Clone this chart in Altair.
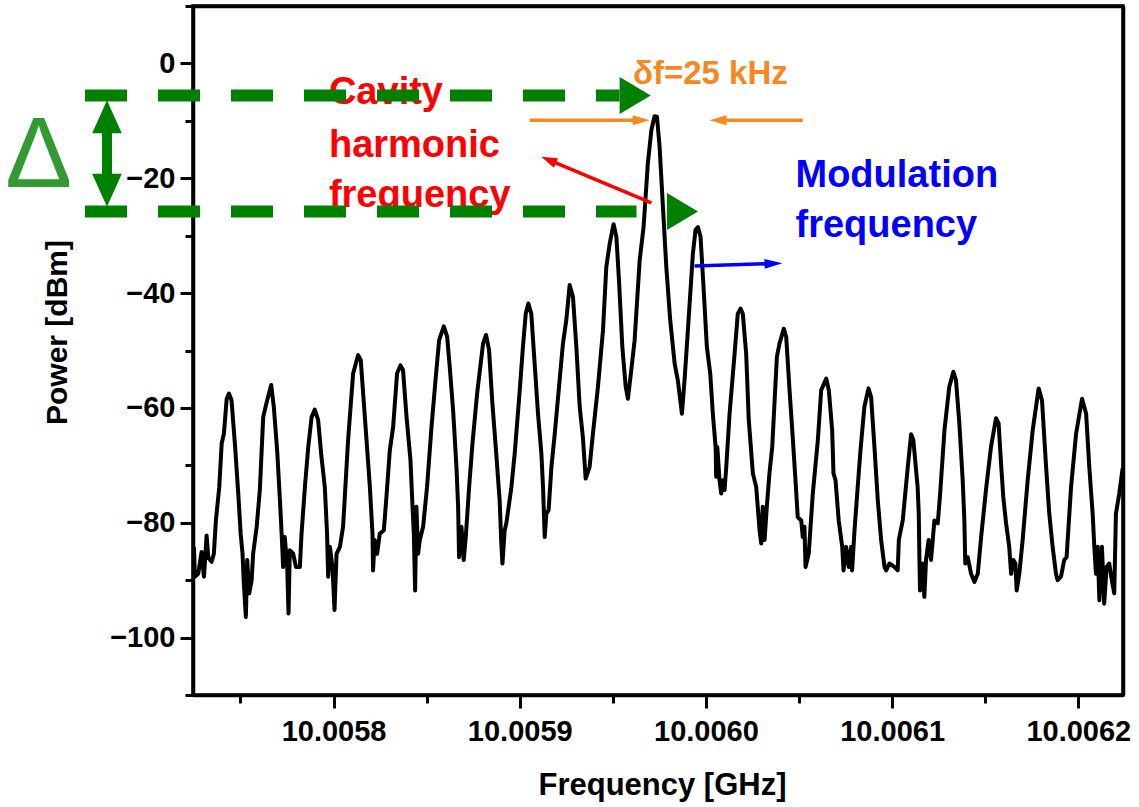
import altair as alt
import pandas as pd

# ---------------- data (frequency as kHz offset from 10.0057 GHz) ----------------
BASE_GHZ = 10.0057

freq_khz = [
    25.0, 25.5, 27.3, 29.1, 30.4, 31.8, 32.7, 34.5, 35.7, 36.8, 38.6, 39.9, 41.1, 42.6, 43.8, 45.2,
    47.0, 48.8, 50.1, 51.1, 51.8, 52.9, 53.6, 54.7, 56.0, 56.8, 58.7, 60.4, 62.2, 64.3, 66.5, 67.9,
    69.7, 71.2, 72.2, 72.9, 73.8, 75.1, 75.8, 76.5, 78.3, 79.8, 81.9, 82.8, 84.6, 86.4, 88.2, 89.9,
    91.7, 93.5, 95.3, 96.5, 97.1, 98.0, 99.4, 100.5, 101.6, 103.4, 105.1, 107.8, 110.5, 113.2, 114.6,
    115.9, 117.7, 119.5, 120.9, 121.2, 122.1, 123.4, 124.8, 127.0, 128.4, 130.2, 132.0, 134.1, 135.9,
    137.3, 139.2, 141.3, 142.4, 143.1, 143.8, 144.5, 145.4, 146.3, 148.1, 150.2, 152.6, 154.9, 156.7,
    159.2, 161.0, 162.4, 164.2, 166.0, 166.9, 167.4, 168.7, 169.9, 171.0, 172.8, 174.6, 177.1, 180.3,
    181.9, 183.5, 185.3, 187.1, 189.2, 190.1, 190.7, 191.9, 192.8, 195.5, 197.3, 200.0, 201.7, 203.2,
    204.6, 206.2, 208.0, 209.8, 211.6, 212.5, 213.4, 214.3, 215.5, 217.0, 218.8, 221.4, 223.2, 225.0,
    226.8, 228.6, 230.4, 232.2, 233.9, 235.4, 237.5, 239.3, 242.0, 244.7, 246.5, 248.3, 250.4, 251.9,
    253.3, 255.1, 256.9, 258.1, 259.9, 261.7, 264.4, 266.5, 267.6, 268.8, 270.7, 272.4, 273.7, 275.1,
    276.9, 278.7, 280.8, 283.2, 284.9, 287.1, 288.5, 290.3, 293.0, 294.4, 295.7, 297.1, 298.7, 300.5,
    302.3, 303.7, 305.2, 305.5, 306.1, 307.3, 308.2, 309.1, 310.0, 310.9, 312.7, 315.4, 317.1, 318.6,
    319.8, 321.6, 323.0, 325.2, 327.0, 328.8, 329.7, 330.5, 331.5, 332.7, 334.1, 335.6, 338.1, 339.5,
    341.8, 343.1, 344.9, 346.6, 348.1, 349.3, 351.2, 352.0, 352.9, 353.5, 355.2, 357.4, 360.1, 361.9,
    364.6, 366.0, 367.8, 368.5, 369.6, 371.3, 373.2, 373.9, 375.3, 376.7, 378.0, 378.5, 379.8, 381.5,
    383.0, 385.1, 387.3, 388.7, 390.5, 392.3, 394.1, 395.9, 396.8, 398.5, 401.2, 403.0, 403.6, 405.7,
    408.4, 410.2, 411.4, 413.7, 414.3, 414.7, 415.0, 416.4, 417.3, 418.2, 419.6, 420.9, 422.7, 424.5,
    425.8, 428.1, 430.7, 432.9, 434.3, 436.1, 437.9, 438.8, 439.3, 440.6, 442.4, 444.2, 446.0, 447.8,
    450.4, 453.1, 455.8, 457.2, 458.5, 459.7, 461.2, 462.9, 463.9, 465.1, 466.2, 466.9, 468.3, 470.1,
    472.8, 475.5, 478.7, 480.5, 482.7, 484.4, 486.2, 488.0, 488.9, 490.7, 492.4, 493.7, 496.1, 498.8,
    502.0, 504.2, 505.9, 507.7, 508.6, 509.5, 510.4, 511.3, 512.7, 513.9, 515.2, 516.6, 518.0, 519.3,
    520.2, 522.0, 523.8,
]

power_dbm = [
    -84.2, -89.4, -88.9, -85.1, -89.4, -82.2, -86.0, -86.8, -85.4, -79.6, -73.8, -66.2, -64.5, -58.4, -57.5, -58.7,
    -66.2, -74.9, -81.9, -85.4, -90.6, -96.4, -86.5, -92.3, -90.0, -85.4, -80.7, -74.3, -61.6, -58.7, -56.0, -59.8,
    -67.4, -76.1, -82.5, -87.7, -82.5, -87.7, -95.8, -84.8, -85.4, -87.7, -87.7, -81.9, -73.8, -66.8, -61.6, -60.3,
    -62.1, -68.5, -73.8, -81.9, -89.4, -84.2, -87.7, -95.2, -85.4, -84.2, -80.7, -65.6, -54.0, -50.8, -51.7,
    -57.5, -65.6, -73.8, -81.9, -88.3, -83.0, -85.4, -81.9, -81.3, -75.5, -67.4, -63.3, -54.0, -52.6,
    -53.4, -61.6, -69.1, -77.2, -81.9, -91.8, -77.2, -85.4, -83.0, -80.7, -73.8, -63.3, -54.6, -48.2,
    -45.8, -47.6, -52.9, -60.4, -70.3, -77.2, -86.0, -80.7, -86.5, -82.5, -73.8, -66.2, -57.5, -48.8,
    -47.3, -49.9, -59.2, -66.8, -76.1, -83.6, -87.1, -81.3, -80.1, -73.8, -67.9, -56.9, -49.4, -43.6,
    -41.8, -43.6, -52.3, -61.0, -67.9, -73.8, -82.5, -78.4, -77.8, -70.3, -64.5, -55.2, -48.8, -44.7,
    -38.6, -40.7, -49.4, -59.8, -65.1, -72.3, -70.3, -64.5, -56.3, -46.5, -35.4, -31.4, -28.0, -30.2,
    -37.8, -49.4, -56.3, -58.4, -53.4, -48.2, -34.3, -28.5, -23.2, -17.4, -11.6, -9.2, -9.3, -14.5,
    -25.0, -35.4, -44.7, -52.3, -55.2, -61.0, -55.2, -46.5, -33.1, -29.0, -28.5, -30.2, -38.9, -49.4,
    -54.0, -61.0, -66.8, -72.0, -66.8, -72.6, -74.9, -72.6, -74.3, -70.3, -61.0, -50.5, -43.6, -42.7,
    -43.6, -50.5, -62.1, -71.4, -73.8, -81.3, -83.6, -77.2, -83.0, -77.2, -71.4, -66.8, -51.1, -48.8,
    -46.2, -47.6, -56.9, -65.1, -72.6, -79.0, -79.6, -82.5, -80.7, -87.7, -85.4, -74.9, -65.6, -56.9,
    -54.9, -56.9, -63.9, -71.4, -72.6, -79.6, -84.2, -88.3, -84.2, -87.7, -84.2, -88.3, -81.3, -73.8,
    -67.4, -59.8, -56.6, -58.1, -66.8, -76.1, -83.0, -87.7, -88.3, -87.1, -87.7, -88.3, -83.0, -79.6,
    -70.3, -64.6, -65.6, -73.8, -78.4, -87.1, -91.8, -87.1, -92.9, -86.5, -83.0, -86.5, -79.6, -80.1,
    -74.9, -63.9, -56.3, -53.7, -55.2, -62.7, -72.6, -79.6, -87.1, -86.0, -88.9, -90.3, -88.9, -82.5,
    -74.3, -66.8, -61.8, -62.7, -69.7, -75.5, -80.1, -84.2, -88.9, -86.5, -87.1, -91.8, -88.9, -83.0,
    -72.6, -63.9, -56.6, -58.7, -70.3, -78.4, -84.2, -88.9, -90.0, -89.4, -86.5, -86.0, -73.8, -64.5,
    -58.4, -61.0, -70.3, -78.4, -84.2, -88.9, -84.2, -93.5, -84.2, -94.1, -87.7, -87.1, -90.0, -92.3,
    -78.4, -74.9, -70.5,
]

# axes
x_domain_ghz = [10.0057245, 10.006224]
y_domain_dbm = [-110, 10]
x_major_ticks = [10.0058, 10.0059, 10.0060, 10.0061, 10.0062]
x_minor_ticks = [10.00575, 10.00585, 10.00595, 10.00605, 10.00615]
y_major_ticks = [0, -20, -40, -60, -80, -100]
y_minor_ticks = [10, -10, -30, -50, -70, -90, -110]
x_title = "Frequency [GHz]"
y_title = "Power [dBm]"

# annotations (kHz offset, dBm)
green_dash_x_start = [-33.5, -33.5]
green_dash_x_end = [253.6, 262.7]
green_dash_y = [-5.6, -25.8]
green_head_x = [262.0, 287.4]
green_head_y = [-5.6, -25.8]
delta_arrow_x = [-21.7]
delta_arrow_top = [-9.3]
delta_arrow_bottom = [-22.1]
delta_symbol = ["Δ"]
delta_symbol_x = [-58.4]
delta_symbol_y = [-21.6]

orange_x_start = [205.3, 306.5]
orange_x_end = [265.2, 352.0]
orange_y = [-9.9, -9.9]
orange_head_right_x = [265.2]
orange_head_left_x = [306.5]
orange_label = ["δf=25 kHz"]
orange_label_x = [260.8]
orange_label_y = [-3.5]

red_arrow_from = (270.7, -24.3)
red_arrow_head = (215.5, -16.8)
red_lines = ["Cavity", "harmonic", "frequency"]
red_lines_x = [97.5, 97.5, 97.5]
red_lines_y = [-7.1, -16.3, -25.0]

blue_arrow_from = (293.9, -35.3)
blue_arrow_head = (336.3, -34.85)
blue_lines = ["Modulation", "frequency"]
blue_lines_x = [348.1, 348.1]
blue_lines_y = [-21.5, -30.2]


def ghz(k):
    return BASE_GHZ + k * 1e-6


trace = pd.DataFrame({"f": [ghz(k) for k in freq_khz], "p": power_dbm})

xs = alt.Scale(domain=x_domain_ghz, nice=False, zero=False)
ys = alt.Scale(domain=y_domain_dbm, nice=False, zero=False)

GREEN = "#008000"
ORANGE = "#f5891f"
RED = "#ff0000"
BLUE = "#0000ff"
FONT = "Liberation Sans"

x_axis = alt.Axis(
    values=x_major_ticks, format=".4f", tickSize=13, offset=0,
    title=x_title, titleX=469, titleY=90, titleBaseline="middle", titleFontSize=31,
    labelPadding=9, labelFlush=False, labelOverlap=False)
y_axis = alt.Axis(
    values=y_major_ticks, format="d", tickSize=13, offset=0,
    title=y_title, titleX=-136, titleY=326, titleBaseline="middle", titleFontSize=30,
    labelPadding=5, labelFlush=False, labelOverlap=False)


def X(field):
    return alt.X(field, type="quantitative", scale=xs, axis=x_axis)


def Y(field):
    return alt.Y(field, type="quantitative", scale=ys, axis=y_axis)


line = alt.Chart(trace).mark_line(color="black", strokeWidth=4, strokeJoin="round").encode(
    x=X("f"), y=Y("p"))

green_df = pd.DataFrame({"x": [ghz(v) for v in green_dash_x_start],
                         "x2": [ghz(v) for v in green_dash_x_end], "y": green_dash_y})
green_rules = alt.Chart(green_df).mark_rule(color=GREEN, strokeWidth=12, strokeDash=[42, 31]).encode(
    x=X("x"), x2="x2", y=Y("y"))

ghead_df = pd.DataFrame({"x": [ghz(v) for v in green_head_x], "y": green_head_y})
green_heads = alt.Chart(ghead_df).mark_point(
    shape="M-0.84,-1L0.84,0L-0.84,1Z", filled=True, size=1369, color=GREEN, opacity=1, strokeWidth=0
).encode(x=X("x"), y=Y("y"))

darrow_df = pd.DataFrame({"x": [ghz(v) for v in delta_arrow_x], "y": delta_arrow_top, "y2": delta_arrow_bottom})
delta_shaft = alt.Chart(darrow_df).mark_rule(color=GREEN, strokeWidth=10).encode(
    x=X("x"), y=Y("y"), y2="y2")
dup_df = pd.DataFrame({"x": [ghz(v) for v in delta_arrow_x], "y": delta_arrow_top})
ddown_df = pd.DataFrame({"x": [ghz(v) for v in delta_arrow_x], "y": delta_arrow_bottom})
delta_up = alt.Chart(dup_df).mark_point(
    shape="M0,-1L0.9,1L-0.9,1Z", filled=True, size=1089, color=GREEN, opacity=1, strokeWidth=0
).encode(x=X("x"), y=Y("y"))
delta_down = alt.Chart(ddown_df).mark_point(
    shape="M0,1L0.9,-1L-0.9,-1Z", filled=True, size=1089, color=GREEN, opacity=1, strokeWidth=0
).encode(x=X("x"), y=Y("y"))

delta_df = pd.DataFrame({"x": [ghz(v) for v in delta_symbol_x], "y": delta_symbol_y, "t": delta_symbol})
delta_text = alt.Chart(delta_df).mark_text(
    align="center", baseline="alphabetic", font=FONT, fontSize=100, color="#339933"
).encode(x=X("x"), y=Y("y"), text="t:N")

orange_df = pd.DataFrame({"x": [ghz(v) for v in orange_x_start],
                          "x2": [ghz(v) for v in orange_x_end], "y": orange_y})
orange_rules = alt.Chart(orange_df).mark_rule(color=ORANGE, strokeWidth=3.5).encode(
    x=X("x"), x2="x2", y=Y("y"))
ohr_df = pd.DataFrame({"x": [ghz(v) for v in orange_head_right_x], "y": [orange_y[0]]})
ohl_df = pd.DataFrame({"x": [ghz(v) for v in orange_head_left_x], "y": [orange_y[1]]})
orange_head_r = alt.Chart(ohr_df).mark_point(
    shape="M-1,-0.6L1,0L-1,0.6Z", filled=True, size=289, color=ORANGE, opacity=1, strokeWidth=0
).encode(x=X("x"), y=Y("y"))
orange_head_l = alt.Chart(ohl_df).mark_point(
    shape="M1,-0.6L-1,0L1,0.6Z", filled=True, size=289, color=ORANGE, opacity=1, strokeWidth=0
).encode(x=X("x"), y=Y("y"))
olab_df = pd.DataFrame({"x": [ghz(v) for v in orange_label_x], "y": orange_label_y, "t": orange_label})
orange_text = alt.Chart(olab_df).mark_text(
    align="left", baseline="alphabetic", font=FONT, fontWeight="bold", fontSize=33, color=ORANGE
).encode(x=X("x"), y=Y("y"), text="t:N")

red_df = pd.DataFrame({"x": [ghz(red_arrow_from[0])], "y": [red_arrow_from[1]],
                       "x2": [ghz(red_arrow_head[0])], "y2": [red_arrow_head[1]]})
red_rule = alt.Chart(red_df).mark_rule(color=RED, strokeWidth=3.5).encode(
    x=X("x"), y=Y("y"), x2="x2", y2="y2")
rhead_df = pd.DataFrame({"x": [ghz(red_arrow_head[0])], "y": [red_arrow_head[1]]})
red_head = alt.Chart(rhead_df).mark_point(
    shape="M-1,-0.65L1,0L-1,0.65Z", filled=True, size=256, angle=203, color=RED, opacity=1, strokeWidth=0
).encode(x=X("x"), y=Y("y"))
rtext_df = pd.DataFrame({"x": [ghz(v) for v in red_lines_x], "y": red_lines_y, "t": red_lines})
red_text = alt.Chart(rtext_df).mark_text(
    align="left", baseline="alphabetic", font=FONT, fontWeight="bold", fontSize=38, color=RED
).encode(x=X("x"), y=Y("y"), text="t:N")

blue_df = pd.DataFrame({"x": [ghz(blue_arrow_from[0])], "y": [blue_arrow_from[1]],
                        "x2": [ghz(blue_arrow_head[0])], "y2": [blue_arrow_head[1]]})
blue_rule = alt.Chart(blue_df).mark_rule(color=BLUE, strokeWidth=3.5).encode(
    x=X("x"), y=Y("y"), x2="x2", y2="y2")
bhead_df = pd.DataFrame({"x": [ghz(blue_arrow_head[0])], "y": [blue_arrow_head[1]]})
blue_head = alt.Chart(bhead_df).mark_point(
    shape="M-1,-0.55L1,0L-1,0.55Z", filled=True, size=324, angle=358, color=BLUE, opacity=1, strokeWidth=0
).encode(x=X("x"), y=Y("y"))
btext_df = pd.DataFrame({"x": [ghz(v) for v in blue_lines_x], "y": blue_lines_y, "t": blue_lines})
blue_text = alt.Chart(btext_df).mark_text(
    align="left", baseline="alphabetic", font=FONT, fontWeight="bold", fontSize=38, color=BLUE
).encode(x=X("x"), y=Y("y"), text="t:N")

main = alt.layer(
    line, red_text, blue_text, orange_text, delta_text,
    orange_rules, orange_head_r, orange_head_l,
    red_rule, red_head, blue_rule, blue_head,
    green_rules, green_heads, delta_shaft, delta_up, delta_down,
)

anchor_df = pd.DataFrame({"x": [x_domain_ghz[1]], "y": [y_domain_dbm[1]]})

# minor ticks (shorter, unlabelled) on bottom and left
minor = alt.Chart(anchor_df).mark_point(opacity=0).encode(
    x=alt.X("x:Q", scale=xs, axis=alt.Axis(orient="bottom", values=x_minor_ticks, tickSize=8,
                                           labels=False, domain=False, title=None, offset=0)),
    y=alt.Y("y:Q", scale=ys, axis=alt.Axis(orient="left", values=y_minor_ticks, tickSize=8,
                                           labels=False, domain=False, title=None, offset=0)),
)

# box frame: top and right axes carrying only their domain line
frame = alt.Chart(anchor_df).mark_point(opacity=0).encode(
    x=alt.X("x:Q", scale=xs, axis=alt.Axis(orient="top", labels=False, ticks=False, title=None,
                                           domain=True, offset=0)),
    y=alt.Y("y:Q", scale=ys, axis=alt.Axis(orient="right", labels=False, ticks=False, title=None,
                                           domain=True, offset=0)),
)

chart = alt.layer(main, minor, frame).resolve_axis(x="independent", y="independent").properties(
    width=930, height=689,
    autosize=alt.AutoSizeParams(type="none"),
    padding={"left": 193, "top": 6, "right": 16, "bottom": 112},
    background="white",
).configure_view(
    stroke="black", strokeWidth=3.5
).configure_axis(
    grid=False,
    domainColor="black", domainWidth=3.5,
    tickColor="black", tickWidth=3,
    labelFont=FONT, labelFontSize=29, labelFontWeight="bold", labelColor="black",
    titleFont=FONT, titleFontWeight="bold", titleColor="black",
)

chart.save("out.html", embed_options={"renderer": "svg", "actions": False})
